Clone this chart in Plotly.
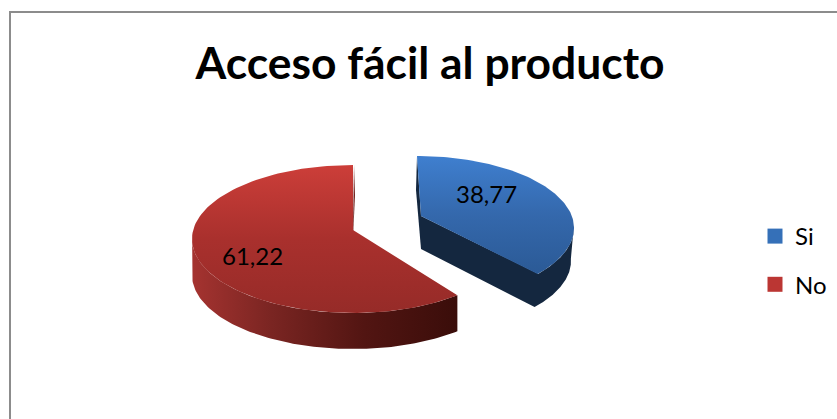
import numpy as np
import plotly.graph_objects as go

categories = ["Si", "No"]
values = [38.77, 61.22]
title_text = "Acceso fácil al producto"

W, H = 837, 419
FONT = "Lato"
# (layout geometry in picture units, used only to project the pie)
BLUE = dict(cx=417, cy=228, a=157, b=72, ax=421, ay=216, depth=33)
RED = dict(cx=353, cy=239, a=161, b=74, ax=353, ay=230, depth=36)
PERSPECTIVE = 0.93  # foreshortening of the sweep of the near slice


def arc(g, t0, t1, n=120):
    t = np.radians(np.linspace(t0, t1, n))
    return g["cx"] + g["a"] * np.sin(t), g["cy"] - g["b"] * np.cos(t)


total = sum(values)
sweep = values[0] / total * 360
blue_end = sweep * PERSPECTIVE
red_start = sweep


def poly(x, y, color=None, grad=None):
    kw = dict(fillcolor=color) if color else dict(fillgradient=grad)
    return go.Scatter(x=list(x), y=list(y), mode="lines", fill="toself",
                      line=dict(width=0), hoverinfo="skip", showlegend=False, **kw)


fig = go.Figure()

# red wall
wx, wy = arc(RED, red_start, 272)
fig.add_trace(poly(np.r_[wx, wx[::-1]], np.r_[wy, wy[::-1] + RED["depth"]],
                   grad=dict(type="horizontal",
                             colorscale=[[0, "#a53330"], [0.3, "#7a2522"], [0.65, "#521512"], [1, "#3a0d0a"]])))
# cut wall of red (thin edge behind the apex)
fig.add_trace(poly([354, RED["ax"] + 2, RED["ax"], RED["ax"]],
                   [165, 195, RED["ay"] + 8, RED["ay"]], color="#6e1f1c"))
# red face (colour stops run along the reversed y axis)
fx, fy = arc(RED, red_start, 360)
fig.add_trace(poly(np.r_[RED["ax"], fx], np.r_[RED["ay"], fy],
                   grad=dict(type="vertical",
                             colorscale=[[0, "#962b28"], [0.5, "#a9302d"], [1, "#cc3e39"]])))

# blue walls, as one outline
DARK = "#14273f"
wx, wy = arc(BLUE, blue_end, 88)
fig.add_trace(poly(np.r_[BLUE["ax"], wx, wx[::-1] - 3, BLUE["ax"]],
                   np.r_[BLUE["ay"], wy, wy[::-1] + BLUE["depth"], BLUE["ay"] + BLUE["depth"]],
                   color=DARK))
fig.add_trace(poly([BLUE["cx"], BLUE["ax"], BLUE["ax"], BLUE["cx"] - 1],
                   [BLUE["cy"] - BLUE["b"], BLUE["ay"], BLUE["ay"] + BLUE["depth"], 190], color=DARK))
# blue face
fx, fy = arc(BLUE, 0, blue_end)
fig.add_trace(poly(np.r_[BLUE["ax"], fx], np.r_[BLUE["ay"], fy],
                   grad=dict(type="vertical",
                             colorscale=[[0, "#2b5a96"], [0.5, "#3468ac"], [1, "#3f7fcf"]])))

# legend entries
for name, col in zip(categories, ["#3570b8", "#bb3633"]):
    fig.add_trace(go.Scatter(x=[None], y=[None], mode="markers", name=name, legendgroup=name,
                             marker=dict(symbol="square", size=15, color=col)))

fmt = [f"{v:.2f}".replace(".", ",") for v in values]
fig.add_annotation(x=486, y=193, text=fmt[0], showarrow=False,
                   font=dict(family=FONT, size=24, color="#000"))
fig.add_annotation(x=252, y=255, text=fmt[1], showarrow=False,
                   font=dict(family=FONT, size=24, color="#000"))

fig.add_shape(type="rect", x0=10, y0=12, x1=W + 40, y1=H + 40, layer="below",
              line=dict(color="#8c8c8c", width=2), fillcolor="white")

fig.update_layout(
    width=W, height=H, margin=dict(l=0, r=0, t=0, b=0),
    paper_bgcolor="white", plot_bgcolor="white",
    xaxis=dict(range=[0, W], visible=False, fixedrange=True),
    yaxis=dict(range=[H, 0], visible=False, fixedrange=True),
    title=dict(text=f"<b>{title_text}</b>", x=430 / W, xanchor="center",
               y=1 - 63 / H, yanchor="middle",
               font=dict(family=FONT, size=44.4, color="#000")),
    legend=dict(x=755 / W, y=1 - 214 / H, xanchor="left", yanchor="top",
                font=dict(family=FONT, size=24, color="#000"),
                bgcolor="rgba(0,0,0,0)", tracegroupgap=14, itemwidth=30),
)
fig.write_html("out.html", config=dict(displayModeBar=False),
               post_script="document.body.style.margin='0';document.documentElement.style.overflow='hidden';")
